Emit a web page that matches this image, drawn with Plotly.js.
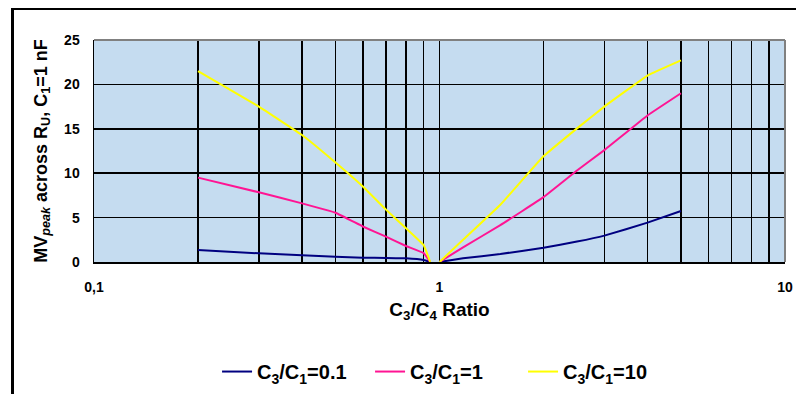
<!DOCTYPE html>
<html>
<head>
<meta charset="utf-8">
<script src="https://cdn.plot.ly/plotly-3.0.1.min.js"></script>
<style>
html,body{margin:0;padding:0;background:#fff;}
#wrap{position:relative;width:796px;height:394px;overflow:hidden;}
#frame{position:absolute;left:11px;top:8px;width:800px;height:400px;border-left:3px solid #000;border-top:2px solid #000;pointer-events:none;z-index:5;}
#chart{position:absolute;left:0;top:0;width:796px;height:394px;}
</style>
</head>
<body>
<div id="wrap"><div id="chart"></div><div id="frame"></div></div>
<script>
// Data
var ratioLeft = [0.2, 0.3, 0.4, 0.5, 0.6, 0.7, 0.8, 0.9, 0.94];
var ratioRight = [1, 1.17, 1.5, 2, 2.5, 3, 4, 5];

var mv01Left = [1.35, 0.98, 0.75, 0.6, 0.49, 0.45, 0.41, 0.22, 0];
var mv01Right = [0, 0.41, 0.9, 1.61, 2.3, 2.97, 4.43, 5.74];

var mv1Left = [9.5, 7.85, 6.6, 5.55, 4.0, 2.85, 1.8, 1.0, 0];
var mv1Right = [0, 1.65, 4.15, 7.3, 10.3, 12.6, 16.5, 19.0];

var mv10Left = [21.5, 17.5, 14.3, 11.2, 8.5, 5.9, 3.8, 1.9, 0];
var mv10Right = [0, 2.5, 6.45, 11.9, 15.05, 17.5, 21.0, 22.7];

var seriesNames = ['C<sub>3</sub>/C<sub>1</sub>=0.1', 'C<sub>3</sub>/C<sub>1</sub>=1', 'C<sub>3</sub>/C<sub>1</sub>=10'];
var seriesColors = ['#000080', '#FF1493', '#FFFF00'];

function join(a,b){ return a.concat([null]).concat(b); }
var xs = join(ratioLeft, ratioRight);
var ys = [join(mv01Left, mv01Right), join(mv1Left, mv1Right), join(mv10Left, mv10Right)];

var traces = ys.map(function(y, i){
  return {
    x: xs, y: y, type: 'scatter', mode: 'lines', name: seriesNames[i],
    connectgaps: false,
    line: {color: seriesColors[i], width: 2, shape: 'spline', smoothing: 0.25}
  };
});

var fam = 'Liberation Sans, Arial, sans-serif';

var layout = {
  width: 796, height: 394,
  margin: {l: 94, r: 11, t: 40, b: 132, autoexpand: false},
  paper_bgcolor: '#ffffff',
  plot_bgcolor: '#C5DCF0',
  separators: ',.',
  font: {family: fam, color: '#000'},
  showlegend: true,
  legend: {
    orientation: 'h', xref: 'container', yref: 'container',
    x: 0.561, xanchor: 'center', y: 0.057, yanchor: 'middle',
    font: {family: fam, size: 20, color: '#000', weight: 'bold'},
    itemwidth: 30, entrywidth: 108, entrywidthmode: 'pixels', bgcolor: 'rgba(0,0,0,0)'
  },
  xaxis: {
    type: 'log', range: [-1, 1], dtick: 1,
    showgrid: true, gridcolor: '#000', gridwidth: 1.5,
    minor: {dtick: 'D1', showgrid: true, gridcolor: '#000', gridwidth: 1.5, ticks: ''},
    showline: true, linecolor: '#000', linewidth: 1.5,
    ticks: '', ticklabelstandoff: 12,
    tickfont: {family: fam, size: 14, color: '#000', weight: 'bold'},
    title: {text: 'C<sub>3</sub>/C<sub>4</sub> Ratio', font: {family: fam, size: 19, color: '#000', weight: 'bold'}, standoff: 8},
    zeroline: false, automargin: false
  },
  yaxis: {
    range: [0, 25], dtick: 5, tick0: 0,
    showgrid: true, gridcolor: '#000', gridwidth: 1.5,
    showline: true, linecolor: '#000', linewidth: 1.5,
    zeroline: true, zerolinecolor: '#000', zerolinewidth: 1.5,
    ticks: '', ticklabelstandoff: 10,
    tickfont: {family: fam, size: 14, color: '#000', weight: 'bold'},
    title: {text: 'MV<sub><i>peak</i></sub> across R<sub>U</sub>, C<sub>1</sub>=1 nF', font: {family: fam, size: 18, color: '#000', weight: 'bold'}, standoff: 12},
    automargin: false
  },
  shapes: [
    {type: 'line', xref: 'paper', yref: 'paper', x0: 0, x1: 1, y0: 1, y1: 1, line: {color: '#808080', width: 2}},
    {type: 'line', xref: 'paper', yref: 'paper', x0: 1, x1: 1, y0: 0, y1: 1, line: {color: '#808080', width: 2}}
  ]
};

Plotly.newPlot('chart', traces, layout, {displayModeBar: false, staticPlot: true});
</script>
</body>
</html>
